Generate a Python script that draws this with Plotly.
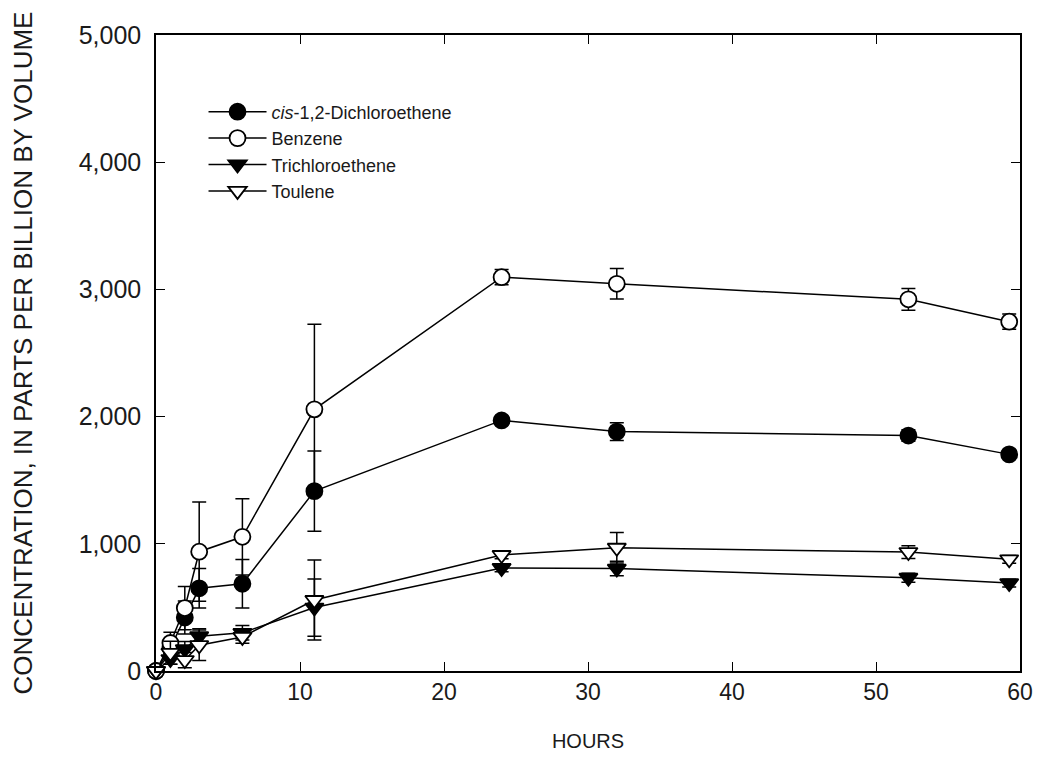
import plotly.graph_objects as go

hours = [0, 1, 2, 3, 6, 11, 24, 32, 52.25, 59.25]

cis_dce = [0, 180, 420, 650, 686, 1414, 1970, 1882, 1851, 1703]
cis_dce_err = [0, 40, 130, 155, 190, 315, 30, 70, 45, 30]

benzene = [0, 220, 495, 938, 1055, 2057, 3096, 3044, 2922, 2746]
benzene_err = [0, 85, 170, 390, 300, 670, 60, 120, 85, 60]

tce = [0, 94, 172, 273, 300, 499, 810, 805, 733, 691]
tce_err = [0, 40, 60, 60, 57, 225, 30, 57, 35, 30]

toluene = [0, 143, 86, 203, 268, 558, 912, 969, 935, 878]
toluene_err = [0, 90, 60, 120, 50, 315, 30, 120, 50, 30]

names = ["<i>cis</i>-1,2-Dichloroethene", "Benzene", "Trichloroethene", "Toulene"]

x_ticks = [0, 10, 20, 30, 40, 50, 60]
y_ticks = [0, 1000, 2000, 3000, 4000, 5000]

FONT = "Liberation Sans, Arial, sans-serif"
INK = "#1a1a1a"

series = [
    (names[0], cis_dce, cis_dce_err, "circle", "black", 16),
    (names[1], benzene, benzene_err, "circle", "white", 16),
    (names[2], tce, tce_err, "triangle-down", "black", 16),
    (names[3], toluene, toluene_err, "triangle-down", "white", 16),
]

fig = go.Figure()
for name, vals, errs, sym, fill, size in series:
    fig.add_trace(go.Scatter(
        x=hours, y=vals, name=name, mode="lines+markers",
        line=dict(color="black", width=1.5),
        marker=dict(symbol=sym, size=size, color=fill,
                    line=dict(color="black", width=1.8)),
        error_y=dict(type="data", array=errs, visible=True,
                     color="black", thickness=1.5, width=7),
        cliponaxis=False,
    ))

fig.update_layout(
    width=1037, height=753,
    margin=dict(l=147, r=15, t=27, b=86),
    paper_bgcolor="white", plot_bgcolor="white",
    font=dict(family=FONT, color=INK),
    showlegend=True,
    legend=dict(
        x=0.055, y=0.908, xanchor="left", yanchor="top",
        bgcolor="rgba(0,0,0,0)", borderwidth=0,
        font=dict(size=18, family=FONT, color=INK),
        tracegroupgap=0, itemwidth=58,
    ),
)

fig.update_xaxes(
    range=[0, 60], tickvals=x_ticks,
    showline=True, linecolor="black", linewidth=1.5, mirror="ticks",
    ticks="inside", ticklen=9, tickwidth=1.2, tickcolor="black",
    showgrid=False, zeroline=False, ticklabeloverflow="allow",
    tickfont=dict(size=23, family=FONT, color=INK),
    title=dict(text="HOURS", font=dict(size=20, family=FONT, color=INK), standoff=30),
)
fig.update_yaxes(
    range=[0, 5000], tickvals=y_ticks, tickformat=",d",
    showline=True, linecolor="black", linewidth=1.5, mirror="ticks",
    ticks="inside", ticklen=9, tickwidth=1.2, tickcolor="black",
    showgrid=False, zeroline=False, ticklabelstandoff=8,
    tickfont=dict(size=25, family=FONT, color=INK),
    title=dict(text="CONCENTRATION, IN PARTS PER BILLION BY VOLUME",
               font=dict(size=26, family=FONT, color=INK), standoff=40),
)

fig.write_html("out.html")
